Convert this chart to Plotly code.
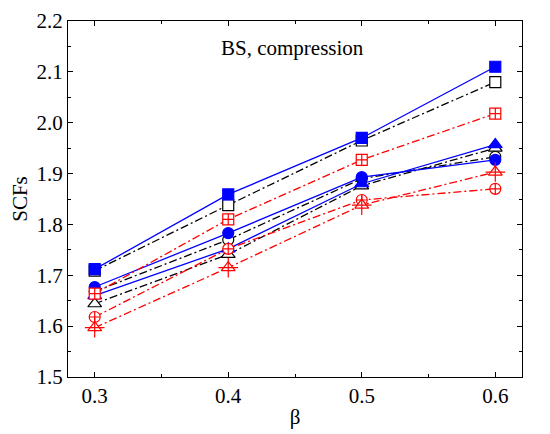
import plotly.graph_objects as go

beta = [0.3, 0.4, 0.5, 0.6]

# Blue solid, filled markers
blue_square = [1.712, 1.859, 1.970, 2.110]
blue_circle = [1.677, 1.783, 1.893, 1.927]
blue_triangle = [1.660, 1.752, 1.880, 1.957]
# Black dash-dot, open markers
black_square = [1.709, 1.838, 1.965, 2.080]
black_circle = [1.668, 1.770, 1.890, 1.933]
black_triangle = [1.644, 1.741, 1.876, 1.950]
# Red dash-dot, crossed markers
red_square = [1.664, 1.810, 1.927, 2.018]
red_circle = [1.618, 1.752, 1.848, 1.870]
red_triangle = [1.597, 1.715, 1.838, 1.903]

fig = go.Figure()

def add(y, color, dash, symbol, fill, size=11, lw=1.3, mlw=1.2):
    fig.add_trace(go.Scatter(
        x=beta, y=y, mode="lines+markers",
        line=dict(color=color, width=lw, dash=dash),
        marker=dict(symbol=symbol, size=size, color=fill,
                    line=dict(color=color, width=mlw)),
        showlegend=False))

dashdot = "8px,3px,2px,3px"
add(black_square, "black", dashdot, "square", "white")
add(black_circle, "black", dashdot, "circle", "white")
add(black_triangle, "black", dashdot, "triangle-up", "white", size=12)
add(blue_square, "#0000ff", "solid", "square", "#0000ff")
add(blue_circle, "#0000ff", "solid", "circle", "#0000ff")
add(blue_triangle, "#0000ff", "solid", "triangle-up", "#0000ff", size=12)
add(red_square, "#ff0000", dashdot, "square-cross", "white")
add(red_circle, "#ff0000", dashdot, "circle-cross", "white")
add(red_triangle, "#ff0000", dashdot, "triangle-up", "white", size=12)
fig.add_trace(go.Scatter(
    x=beta, y=red_triangle, mode="markers",
    marker=dict(symbol="cross-thin", size=14, color="#ff0000",
                line=dict(color="#ff0000", width=1.2)),
    showlegend=False))

font = dict(family="Liberation Serif", size=21, color="black")

axis_common = dict(
    showline=True, linecolor="black", linewidth=1.2, mirror="ticks",
    ticks="inside", ticklen=5, tickwidth=1, tickcolor="black",
    showgrid=False, zeroline=False, tickfont=font, automargin=False,
    ticklabeloverflow="allow",
)

fig.update_xaxes(range=[0.28, 0.62], tickvals=[0.3, 0.4, 0.5, 0.6],
                 ticktext=["0.3", "0.4", "0.5", "0.6"],
                 minor=dict(tickvals=[0.35, 0.45, 0.55], ticks="inside", ticklen=3, tickcolor="black"),
                 title=dict(text="β", font=font, standoff=2), **axis_common)
fig.update_yaxes(range=[1.5, 2.2], tickvals=[1.5, 1.6, 1.7, 1.8, 1.9, 2.0, 2.1, 2.2],
                 ticktext=["1.5", "1.6", "1.7", "1.8", "1.9", "2.0", "2.1", "2.2"],
                 minor=dict(tickvals=[1.55, 1.65, 1.75, 1.85, 1.95, 2.05, 2.15], ticks="inside", ticklen=3, tickcolor="black"),
                 title=dict(text="SCFs", font=font, standoff=4), **axis_common)

fig.add_annotation(text="BS, compression", x=0.448, y=2.147, xref="x", yref="y",
                   showarrow=False, font=font)

fig.update_layout(width=550, height=434, margin=dict(l=60, r=36, t=13, b=65),
                  plot_bgcolor="white", paper_bgcolor="white", font=font)

fig.write_html("out.html")
